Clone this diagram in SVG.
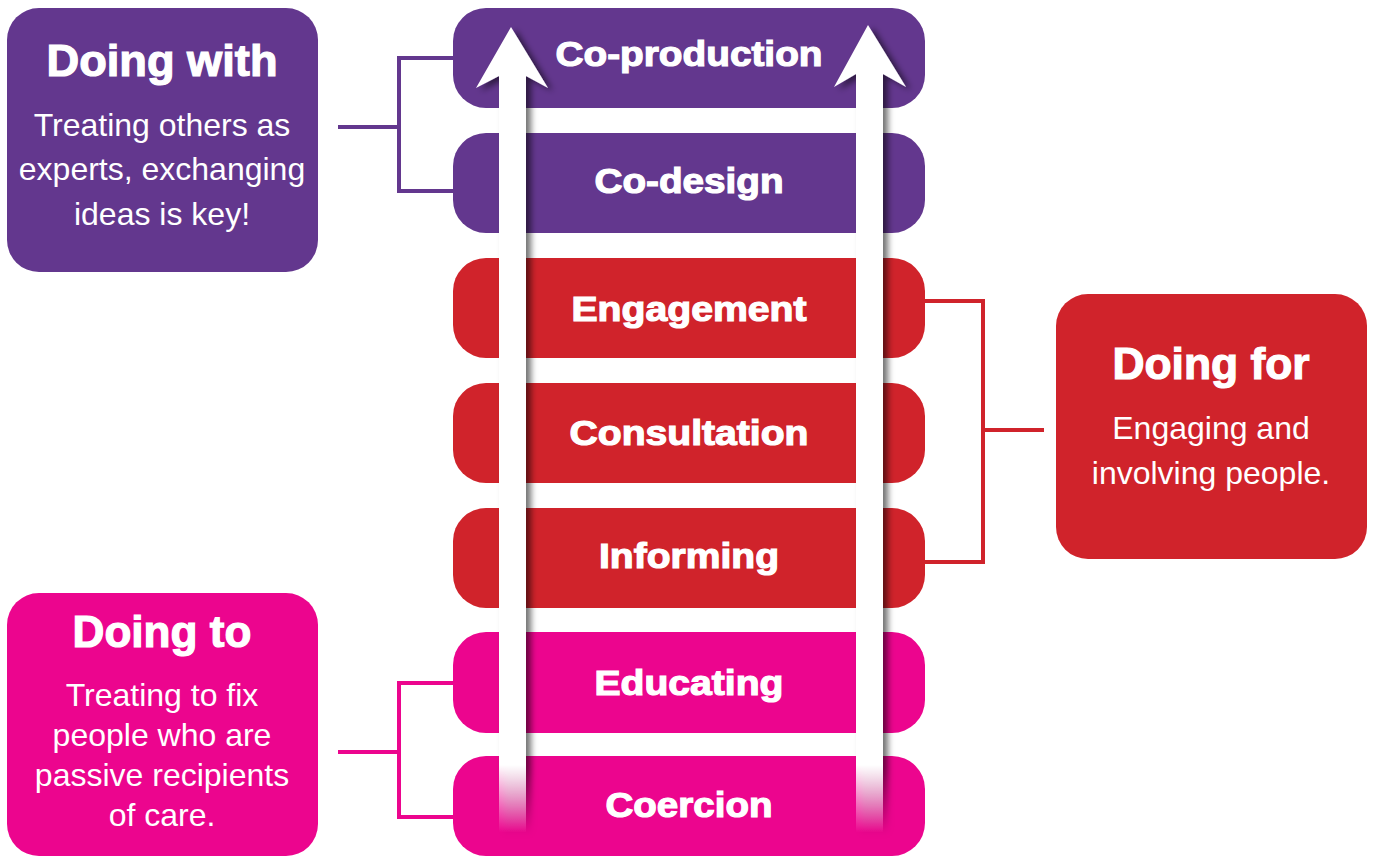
<svg xmlns="http://www.w3.org/2000/svg" width="1375" height="857" viewBox="0 0 1375 857">
<defs>
<style>
.purple{fill:#63378E}
.red{fill:#D0232B}
.pink{fill:#EC058E}
.rung{font-family:"Liberation Sans",Arial,sans-serif;font-weight:bold;font-size:35px;fill:#fff;stroke:#fff;stroke-width:1.2;text-anchor:middle}
.title{font-family:"Liberation Sans",Arial,sans-serif;font-weight:bold;font-size:44px;fill:#fff;stroke:#fff;stroke-width:1.2;text-anchor:middle}
.body{font-family:"Liberation Sans",Arial,sans-serif;font-size:32px;fill:#fff;text-anchor:middle}
.conn{fill:none;stroke-width:4}
</style>
<linearGradient id="fade" gradientUnits="userSpaceOnUse" x1="0" y1="765" x2="0" y2="832">
<stop offset="0" stop-color="#fff" stop-opacity="1"/>
<stop offset="1" stop-color="#fff" stop-opacity="0"/>
</linearGradient>
<filter id="shadow" x="-50%" y="-10%" width="200%" height="120%">
<feDropShadow dx="5" dy="3" stdDeviation="3" flood-color="#000" flood-opacity="0.55"/>
</filter>
</defs>
<rect width="1375" height="857" fill="#fff"/>

<g id="connectors">
<path class="conn" stroke="#63378E" d="M338,127 H399 M453,58 H399 V191 H453"/>
<path class="conn" stroke="#D0232B" d="M925,301 H983 V562 H925 M983,430 H1044"/>
<path class="conn" stroke="#EC058E" d="M338,752 H399 M453,683 H399 V817 H453"/>
</g>

<g id="co-production"><rect class="purple" x="453" y="8" width="472" height="100" rx="33"/></g>
<g id="co-design"><rect class="purple" x="453" y="133" width="472" height="100" rx="33"/></g>
<g id="engagement"><rect class="red" x="453" y="258" width="472" height="100" rx="33"/></g>
<g id="consultation"><rect class="red" x="453" y="383" width="472" height="100" rx="33"/></g>
<g id="informing"><rect class="red" x="453" y="508" width="472" height="100" rx="33"/></g>
<g id="educating"><rect class="pink" x="453" y="632" width="472" height="101" rx="33"/></g>
<g id="coercion"><rect class="pink" x="453" y="756" width="472" height="100" rx="33"/></g>

<g id="ladder-rails" filter="url(#shadow)">
<path fill="url(#fade)" d="M499,832 V76 L476,88 L511,27 L548,88 L526,76 V832 Z"/>
<path fill="url(#fade)" d="M856,832 V74 L834,87 L868,25 L906,87 L883,74 V832 Z"/>
</g>

<g id="rung-labels">
<text class="rung" x="689" y="66" textLength="267" lengthAdjust="spacingAndGlyphs">Co-production</text>
<text class="rung" x="689" y="193" textLength="189" lengthAdjust="spacingAndGlyphs">Co-design</text>
<text class="rung" x="689" y="321" textLength="235" lengthAdjust="spacingAndGlyphs">Engagement</text>
<text class="rung" x="689" y="445" textLength="239" lengthAdjust="spacingAndGlyphs">Consultation</text>
<text class="rung" x="689" y="568" textLength="180" lengthAdjust="spacingAndGlyphs">Informing</text>
<text class="rung" x="689" y="695" textLength="189" lengthAdjust="spacingAndGlyphs">Educating</text>
<text class="rung" x="689" y="817" textLength="167" lengthAdjust="spacingAndGlyphs">Coercion</text>
</g>

<g id="doing-with">
<rect class="purple" x="7" y="8" width="311" height="264" rx="32"/>
<text class="title" x="162" y="76" textLength="231" lengthAdjust="spacingAndGlyphs">Doing with</text>
<text class="body" x="162" y="136">Treating others as</text>
<text class="body" x="162" y="180">experts, exchanging</text>
<text class="body" x="162" y="225">ideas is key!</text>
</g>

<g id="doing-for">
<rect class="red" x="1056" y="294" width="311" height="265" rx="32"/>
<text class="title" x="1211" y="379" textLength="197" lengthAdjust="spacingAndGlyphs">Doing for</text>
<text class="body" x="1211" y="439">Engaging and</text>
<text class="body" x="1211" y="484">involving people.</text>
</g>

<g id="doing-to">
<rect class="pink" x="7" y="593" width="311" height="263" rx="32"/>
<text class="title" x="162" y="647" textLength="179" lengthAdjust="spacingAndGlyphs">Doing to</text>
<text class="body" x="162" y="706">Treating to fix</text>
<text class="body" x="162" y="746">people who are</text>
<text class="body" x="162" y="786">passive recipients</text>
<text class="body" x="162" y="826">of care.</text>
</g>
</svg>
